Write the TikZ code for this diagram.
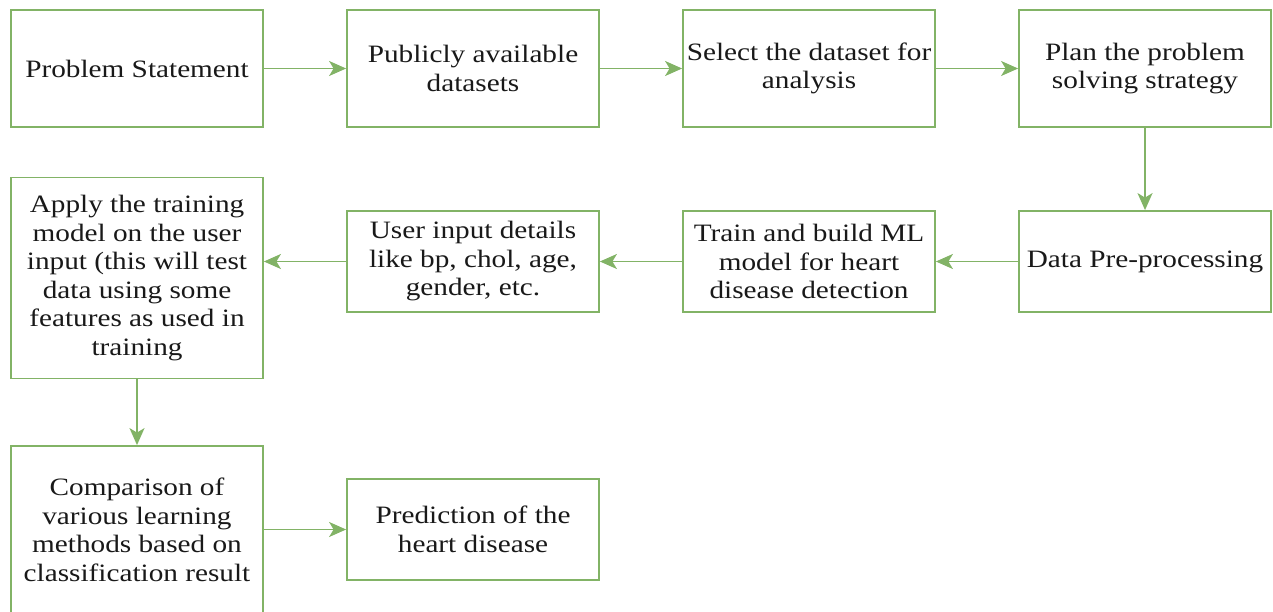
\documentclass[tikz,border=0pt]{standalone}
\usepackage{fontspec}
\setmainfont{Liberation Serif}[FakeStretch=1.17]
\usetikzlibrary{arrows.meta}
\definecolor{boxgreen}{RGB}{130,179,102}
\tikzset{
  stepbox/.style={draw=boxgreen, line width=1.8pt, fill=white, align=center,
    inner sep=0pt, font=\fontsize{25}{28.5}\selectfont, text=black!90},
  flow/.style={draw=boxgreen, line width=1.8pt,
    -{Stealth[length=17pt,width=15pt,inset=4.5pt,fill=boxgreen]}}
}
\begin{document}
\begin{tikzpicture}[x=1pt,y=-1pt]
\useasboundingbox (0,0) rectangle (1273,612);
\clip (0,0) rectangle (1273,612);
% first row
\node[stepbox, minimum width=252pt, minimum height=117pt] (ps) at (137,68.5) {Problem Statement};
\node[stepbox, minimum width=252pt, minimum height=117pt] (pub) at (473,68.5) {Publicly available\\datasets};
\node[stepbox, minimum width=252pt, minimum height=117pt] (sel) at (809,68.5) {Select the dataset for\\analysis};
\node[stepbox, minimum width=252pt, minimum height=117pt] (plan) at (1145,68.5) {Plan the problem\\solving strategy};
% second row
\node[stepbox, minimum width=252pt, minimum height=101pt] (pre) at (1145,261.5) {Data Pre-processing};
\node[stepbox, minimum width=252pt, minimum height=101pt] (train) at (809,261.5) {Train and build ML\\model for heart\\disease detection};
\node[stepbox, minimum width=252pt, minimum height=101pt] (user) at (473,261.5) {User input details\\like bp, chol, age,\\gender, etc.};
\node[stepbox, minimum width=252pt, minimum height=201pt] (apply) at (137,278) {Apply the training\\model on the user\\input (this will test\\data using some\\features as used in\\training};
% third row
\node[stepbox, minimum width=252pt, minimum height=168pt] (cmp) at (137,530) {Comparison of\\various learning\\methods based on\\classification result};
\node[stepbox, minimum width=252pt, minimum height=101pt] (pred) at (473,529.5) {Prediction of the\\heart disease};
% connectors
\draw[flow] (ps) -- (pub);
\draw[flow] (pub) -- (sel);
\draw[flow] (sel) -- (plan);
\draw[flow] (plan) -- (pre);
\draw[flow] (pre) -- (train);
\draw[flow] (train) -- (user);
\draw[flow] (user.west) -- (apply.east |- user.west);
\draw[flow] (apply) -- (cmp);
\draw[flow] (cmp.east |- pred.west) -- (pred.west);
\end{tikzpicture}
\end{document}
